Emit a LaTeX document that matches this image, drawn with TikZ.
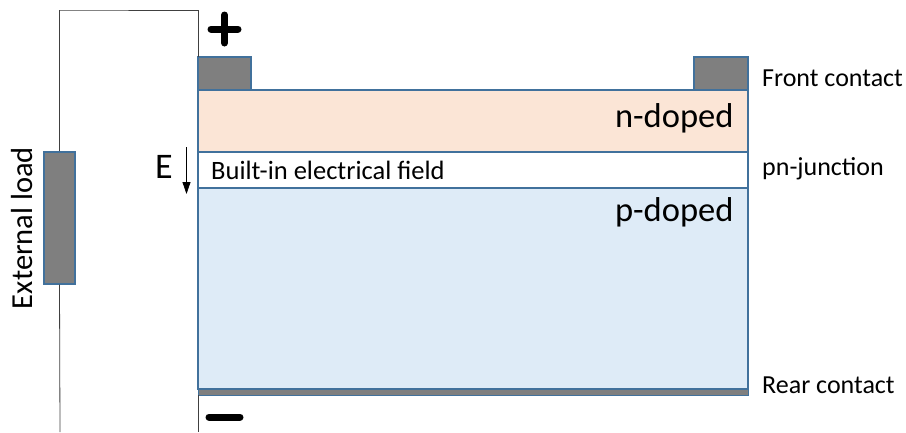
\documentclass[tikz,border=0pt]{standalone}
\usepackage{fontspec}
\setmainfont{Carlito}
\usetikzlibrary{arrows.meta}
\definecolor{edgeblue}{HTML}{41719C}
\definecolor{ncol}{HTML}{FBE5D6}
\definecolor{pcol}{HTML}{DEEBF7}
\definecolor{metal}{HTML}{7F7F7F}
\tikzset{
  layer/.style={draw=edgeblue, line width=1.2pt},
  contact/.style={draw=edgeblue, line width=1.2pt, fill=metal},
  wire/.style={draw=black!75, line width=0.8pt},
  sidelabel/.style={anchor=west, font=\fontsize{26}{30}\selectfont, inner sep=0pt},
  sign/.style={line width=7pt, line cap=round},
}
\begin{document}
\begin{tikzpicture}[x=1pt,y=-1pt]
\useasboundingbox (0,0) rectangle (906,432);
% semiconductor layers
\path[layer, fill=ncol] (198,90) rectangle (748,152);
\path[layer, fill=white] (198,152) rectangle (748,188);
\path[layer, fill=pcol] (198,188) rectangle (748,389);
% contacts
\path[contact] (198,57) rectangle (251,90);
\path[contact] (694,57) rectangle (748,90);
\path[draw=edgeblue, line width=0.8pt, fill=metal] (198,389) rectangle (748,395);
% external load
\node[contact, minimum width=31pt, minimum height=132pt, inner sep=0pt] (load) at (59.5,218) {};
\node[rotate=90, font=\fontsize{30.5}{34}\selectfont] at (22,228) {External load};
% circuit
\coordinate (top) at (198,57);
\coordinate (bot) at (198,395);
\coordinate (lend) at (60,432);
\coordinate (rend) at (198,432);
\draw[wire] (load.north) |- (60,10) -| (top);
\draw[wire] (load.south) -- (lend);
\draw[wire] (bot) -- (rend);
% polarity
\draw[sign] (211,29) -- (238,29);
\draw[sign] (224.5,15) -- (224.5,43);
\draw[sign] (209,417) -- (240,417);
% layer text
\node[anchor=east, font=\fontsize{34.5}{40}\selectfont] at (737,118) {n-doped};
\node[anchor=east, font=\fontsize{34.5}{40}\selectfont] at (737,212) {p-doped};
\node[anchor=west, inner sep=0pt, font=\fontsize{26.5}{30}\selectfont] at (211,170) {Built-in electrical field};
\node[font=\fontsize{36}{40}\selectfont, inner sep=0pt] at (164,167) {E};
\coordinate (ea) at (186.5,147);
\coordinate (eb) at (186.5,194);
\draw[-{Stealth[length=12pt,width=8pt,inset=0pt]}, line width=0.8pt] (ea) -- (eb);
% side labels
\node[sidelabel] at (762,78) {Front contact};
\node[sidelabel] at (762,169) {pn-junction};
\node[sidelabel] at (762,385) {Rear contact};
\end{tikzpicture}
\end{document}
